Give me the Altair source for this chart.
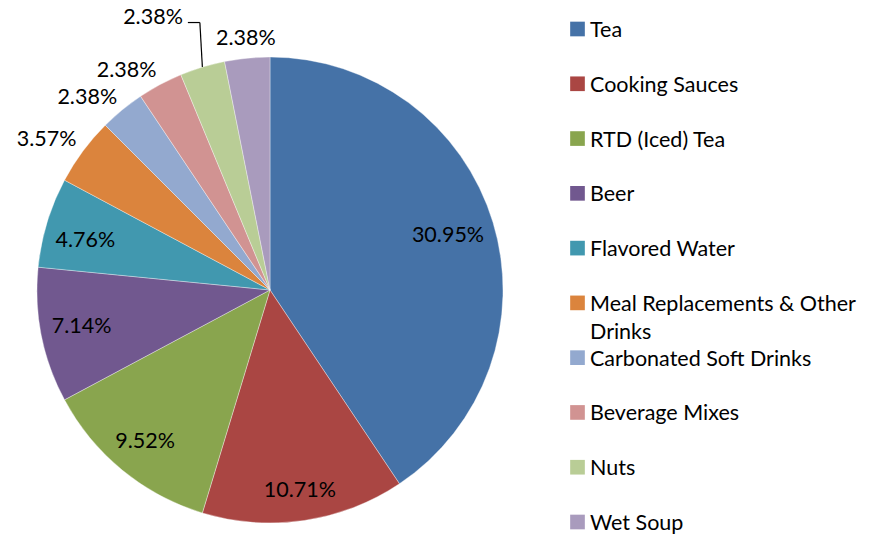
import altair as alt
import pandas as pd

categories = ["Tea", "Cooking Sauces", "RTD (Iced) Tea", "Beer", "Flavored Water",
              "Meal Replacements & Other Drinks", "Carbonated Soft Drinks",
              "Beverage Mixes", "Nuts", "Wet Soup"]
counts = [26, 9, 8, 6, 4, 3, 2, 2, 2, 2]
pct_labels = ["30.95%", "10.71%", "9.52%", "7.14%", "4.76%", "3.57%",
              "2.38%", "2.38%", "2.38%", "2.38%"]
colors = ["#4572A7", "#AA4643", "#89A54E", "#71588F", "#4198AF", "#DB843D",
          "#93A9CF", "#D19392", "#B9CD96", "#A99BBD"]
legend_labels = ["Meal Replacements & Other\nDrinks" if c == "Meal Replacements & Other Drinks" else c
                 for c in categories]

df = pd.DataFrame({
    "category": categories,
    "count": counts,
    "label": pct_labels,
    "legend": legend_labels,
    "idx": list(range(len(categories))),
})

CX, CY, R = 270, 290, 233
FONT = "Lato"
FS = 21.5

color = alt.Color("category:N", scale=alt.Scale(domain=categories, range=colors), legend=None)
theta = alt.Theta("count:Q", stack=True)
order = alt.Order("idx:Q", sort="ascending")

base = alt.Chart(df)

pie = base.mark_arc(outerRadius=R, stroke="white", strokeWidth=0.6, strokeOpacity=0.6).encode(
    theta=theta, order=order, color=color,
    x=alt.value(CX), y=alt.value(CY),
)

def label_layer(test, **mark_kw):
    return base.transform_calculate(
        t=f"({test}) ? datum.label : ''"
    ).mark_text(font=FONT, fontSize=FS, color="black", **mark_kw).encode(
        theta=theta, order=order, text="t:N",
        x=alt.value(CX), y=alt.value(CY),
    )

# inside labels (Excel "best fit" places them at slightly different radii)
inside_style = {0: dict(radius=186), 1: dict(radius=203), 2: dict(radius=197),
                3: dict(radius=192), 4: dict(radius=193, dy=7)}
inside_layers = [
    label_layer(f"datum.idx == {i}", align="center", baseline="middle", **kw)
    for i, kw in inside_style.items()
]
outside_left = label_layer("datum.idx >= 5 && datum.idx <= 7", radius=241,
                           align="right", baseline="alphabetic")
outside_top = label_layer("datum.category == 'Wet Soup'", radius=246,
                          align="center", baseline="alphabetic")
nuts_label = label_layer("datum.category == 'Nuts'", radius=R,
                         align="right", baseline="alphabetic", dx=-19.5, dy=-43)

edge = base.transform_window(
    cum="sum(count)", sort=[alt.SortField("idx")], frame=[None, 0]
).transform_joinaggregate(
    total="sum(count)"
).transform_calculate(
    mid="(datum.cum - datum.count / 2) / datum.total * 2 * PI",
).transform_calculate(
    ex=f"{CX} + {R} * sin(datum.mid)",
    ey=f"{CY} - {R} * cos(datum.mid)",
).transform_filter("datum.category == 'Nuts'").transform_calculate(
    cx="datum.ex - 2.5", cy="datum.ey - 44.5", hx="datum.ex - 14.5"
)

leader_v = edge.mark_rule(color="black", strokeWidth=1.2).encode(
    x=alt.X("cx:Q", scale=None, axis=None), y=alt.Y("cy:Q", scale=None, axis=None),
    x2="ex:Q", y2="ey:Q",
)
leader_h = edge.mark_rule(color="black", strokeWidth=1.2).encode(
    x=alt.X("hx:Q", scale=None, axis=None), y=alt.Y("cy:Q", scale=None, axis=None),
    x2="cx:Q",
)

ypos = alt.Y("category:N", sort=categories, axis=None,
             scale=alt.Scale(type="point", range=[29, 522], padding=0))

leg_sym = base.mark_square(size=215, opacity=1).encode(
    x=alt.value(577.5), y=ypos, color=color,
)
leg_txt = base.mark_text(font=FONT, fontSize=FS, color="black", align="left",
                         baseline="top", lineBreak="\n", lineHeight=28,
                         dy=-9).encode(
    x=alt.value(590), y=ypos, text="legend:N",
)

chart = alt.layer(
    pie, *inside_layers, outside_left, outside_top, nuts_label, leader_v, leader_h, leg_sym, leg_txt
).resolve_scale(
    x="independent", y="independent"
).properties(
    width=886, height=535, padding=0, autosize=alt.AutoSizeParams(type="none"),
).configure_view(strokeWidth=0)

chart.save("out.html", embed_options={"renderer": "svg", "actions": False})
